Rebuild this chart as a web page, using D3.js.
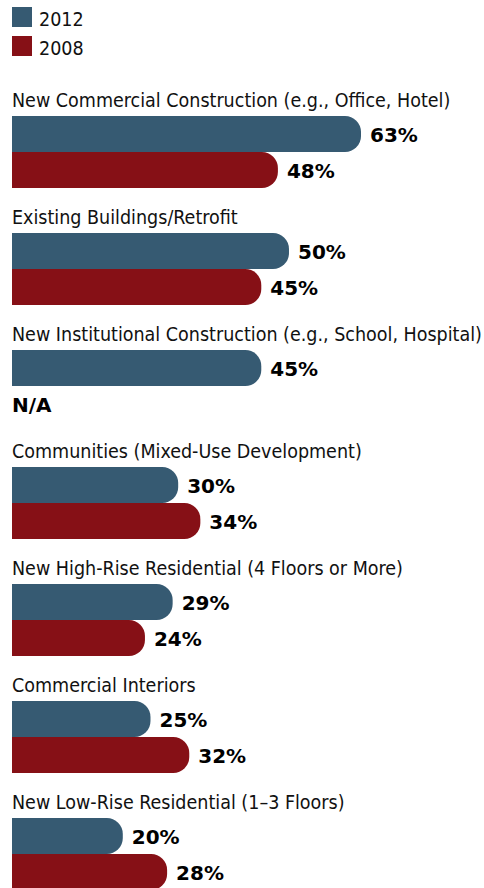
<!DOCTYPE html>
<html>
<head>
<meta charset="utf-8">
<script src="https://cdn.jsdelivr.net/npm/d3@7"></script>
<style>
body { margin: 0; background: #fff; }
.cat { font-family: "DejaVu Sans Condensed", "Liberation Sans Narrow", sans-serif; font-stretch: condensed; font-size: 19.5px; fill: #111; }
.val { font-family: "DejaVu Sans", sans-serif; font-weight: bold; font-size: 20px; fill: #000; }
</style>
</head>
<body>
<script>
var categories = [
	"New Commercial Construction (e.g., Office, Hotel)",
	"Existing Buildings/Retrofit",
	"New Institutional Construction (e.g., School, Hospital)",
	"Communities (Mixed-Use Development)",
	"New High-Rise Residential (4 Floors or More)",
	"Commercial Interiors",
	"New Low-Rise Residential (1\u20133 Floors)"
];
var series = ["2012", "2008"];
var values2012 = [63, 50, 45, 30, 29, 25, 20];
var values2008 = [48, 45, null, 34, 24, 32, 28];
var colors = ["#365a72", "#861016"];

var w = 484;
var h = 888;

var svg = d3.select("body")
			.append("svg")
			.attr("width", w)
			.attr("height", h);

// legend
var legend = svg.selectAll(".legend")
	.data(series)
	.enter()
	.append("g")
	.attr("class", "legend")
	.attr("transform", function(d, i){ return "translate(12," + (7 + i * 29) + ")"; });

legend.append("rect")
	.attr("width", 20)
	.attr("height", 20)
	.attr("fill", function(d, i){ return colors[i]; });

legend.append("text")
	.attr("class", "cat")
	.attr("x", 27)
	.attr("y", 19)
	.text(function(d){ return d; });

var xScale = d3.scaleLinear()
				.domain([0, 63])
				.range([12, 361]);

var yScale = d3.scaleBand()
				.domain(categories)
				.range([82, 82 + 117 * categories.length]);

var inner = d3.scaleBand()
				.domain(series)
				.range([34, 106]);

var rows = categories.map(function(c, i){
	return { name: c, vals: [values2012[i], values2008[i]] };
});

var groups = svg.selectAll(".group")
	.data(rows)
	.enter()
	.append("g")
	.attr("class", "group")
	.attr("transform", function(d){ return "translate(0," + yScale(d.name) + ")"; });

groups.append("text")
	.attr("class", "cat")
	.attr("x", 12)
	.attr("y", 25)
	.text(function(d){ return d.name; });

function barPath(x0, x1, y0, bh){
	var r = 16;
	var p = d3.path();
	p.moveTo(x0, y0);
	p.lineTo(x1 - r, y0);
	p.arcTo(x1, y0, x1, y0 + r, r);
	p.lineTo(x1, y0 + bh - r);
	p.arcTo(x1, y0 + bh, x1 - r, y0 + bh, r);
	p.lineTo(x0, y0 + bh);
	p.closePath();
	return p.toString();
}

groups.each(function(d){
	var g = d3.select(this);
	d.vals.forEach(function(v, j){
		var y0 = inner(series[j]);
		var bh = inner.bandwidth();
		if (v === null) {
			g.append("text")
				.attr("class", "val")
				.attr("x", 12)
				.attr("y", y0 + bh / 2 + 8)
				.text("N/A");
			return;
		}
		g.append("path")
			.attr("d", barPath(xScale(0), xScale(v), y0, bh))
			.attr("fill", colors[j]);
		g.append("text")
			.attr("class", "val")
			.attr("x", xScale(v) + 9)
			.attr("y", y0 + bh / 2 + 8)
			.text(v + "%");
	});
});
</script>
</body>
</html>
